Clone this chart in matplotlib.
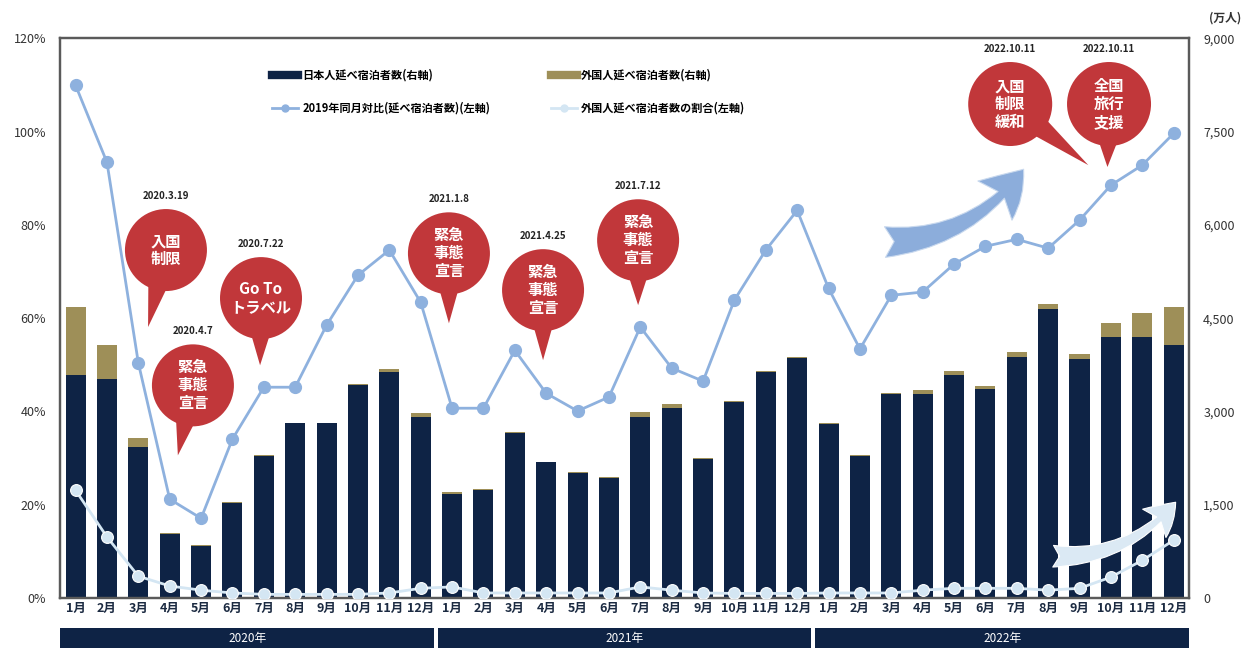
import numpy as np
import matplotlib
matplotlib.use("Agg")
from matplotlib import pyplot as plt
from matplotlib.patches import Ellipse, Polygon, FancyArrowPatch, Rectangle
from matplotlib.lines import Line2D
from matplotlib.ticker import FuncFormatter

plt.rcParams['font.family'] = ['Noto Sans CJK JP', 'DejaVu Sans']

years = ['2020年', '2021年', '2022年']
months = [f'{m}月' for m in range(1, 13)] * 3

# 延べ宿泊者数 (万人)
japanese = [3584, 3520, 2427, 1030, 845, 1535, 2290, 2810, 2810, 3420, 3632, 2909,
            1671, 1735, 2660, 2180, 2018, 1938, 2909, 3053, 2242, 3158, 3640, 3865,
            2805, 2290, 3287, 3279, 3584, 3359, 3873, 4645, 3841, 4195, 4195, 4066]
foreign = [1093, 546, 144, 15, 7, 8, 8, 2, 2, 19, 48, 64,
           32, 17, 8, 6, 7, 7, 80, 65, 8, 8, 8, 8,
           7, 8, 8, 64, 64, 48, 80, 80, 80, 225, 385, 611]

# 2019年同月対比 (%)
ratio_2019 = [109.9, 93.4, 50.4, 21.2, 17.1, 34.1, 45.2, 45.2, 58.5, 69.2, 74.6, 63.4,
              40.7, 40.7, 53.1, 43.9, 40.1, 43.1, 58.1, 49.3, 46.5, 63.9, 74.6, 83.1,
              66.4, 53.4, 64.9, 65.6, 71.6, 75.4, 76.9, 75.0, 81.0, 88.5, 92.8, 99.6]
# 外国人延べ宿泊者数の割合 (%)
foreign_share = [23.1, 13.1, 4.7, 2.6, 1.7, 1.1, 0.8, 0.8, 0.8, 0.8, 1.1, 2.1,
                 2.4, 1.1, 1.1, 1.1, 1.1, 1.1, 2.4, 1.7, 1.1, 1.0, 1.0, 1.0,
                 1.1, 1.1, 1.1, 1.7, 2.1, 2.1, 2.1, 1.7, 2.1, 4.5, 8.1, 12.4]

# callouts: (center x, center y %, tip x, tip y %, text, date, radius px)
callouts = [
    (2.88, 74.6, 2.31, 58.1, '入国\n制限', '2020.3.19', 41),
    (3.74, 45.6, 3.26, 30.6, '緊急\n事態\n宣言', '2020.4.7', 41),
    (5.91, 64.3, 5.88, 49.9, 'Go To\nトラベル', '2020.7.22', 41),
    (11.90, 73.9, 11.90, 58.9, '緊急\n事態\n宣言', '2021.1.8', 41),
    (14.90, 66.0, 14.90, 51.0, '緊急\n事態\n宣言', '2021.4.25', 41),
    (17.93, 76.7, 17.93, 62.8, '緊急\n事態\n宣言', '2021.7.12', 41),
    (29.79, 105.9, 32.28, 92.8, '入国\n制限\n緩和', '2022.10.11', 42),
    (32.94, 105.9, 32.89, 92.4, '全国\n旅行\n支援', '2022.10.11', 42),
]

NAVY = '#0e2345'
OLIVE = '#9e8f58'
BLUE = '#8eb1de'
LIGHT = '#d4e6f3'
RED = '#c1373a'

x = np.arange(len(japanese))

fig = plt.figure(figsize=(12.48, 6.48), dpi=100)
ax = fig.add_axes([0.048, 0.077, 0.905, 0.864])
ax2 = ax.twinx()

# bars (right axis)
ax.bar(x, japanese, width=0.64, color=NAVY, zorder=2)
ax.bar(x, foreign, width=0.64, bottom=japanese, color=OLIVE, zorder=2)
ax.set_xlim(-0.5, len(x) - 0.5)
ax.set_ylim(0, 9000)
ax.set_yticks(np.arange(0, 9001, 1500))
ax.yaxis.set_major_formatter(FuncFormatter(lambda v, p: f'{int(v):,}'))
ax.yaxis.tick_right()
ax.set_xticks(x)
ax.set_xticklabels(months, fontsize=9, fontweight='bold', color='#1b2a41')
ax.tick_params(axis='both', length=0)
ax.tick_params(axis='x', pad=3)
ax.tick_params(axis='y', pad=10, labelsize=9, labelcolor='#333333')

# lines (left axis)
ax2.plot(x, ratio_2019, color=BLUE, lw=2, marker='o', ms=8.5, zorder=4)
ax2.plot(x, foreign_share, color=LIGHT, lw=2, marker='o', ms=8.5,
         mec='white', mew=0.8, zorder=4)
ax2.set_ylim(0, 120)
ax2.set_yticks(np.arange(0, 121, 20))
ax2.yaxis.set_major_formatter(FuncFormatter(lambda v, p: f'{int(v)}%'))
ax2.yaxis.tick_left()
ax2.tick_params(axis='y', length=0, pad=10, labelsize=9, labelcolor='#333333')

for a in (ax, ax2):
    for s in a.spines.values():
        s.set_color('#5a5a5a')
        s.set_linewidth(1.6)

fig.text(1225 / 1248, 1 - 18 / 648, '(万人)', ha='center', va='center', fontsize=8.5,
         color='#333333', fontweight='bold')

# year bands under the month labels
tr = ax.get_xaxis_transform()
for i, yr in enumerate(years):
    x0 = 12 * i - 0.5 + (0.065 if i > 0 else 0)
    x1 = 12 * i + 11.5 - (0.065 if i < len(years) - 1 else 0)
    ax.add_patch(Rectangle((x0, -0.0893), x1 - x0, 0.0357, transform=tr,
                           fc=NAVY, ec='none', clip_on=False))
    ax.text((x0 + x1) / 2, -0.0714, yr, transform=tr, ha='center', va='center',
            color='white', fontsize=8.5)

# legend
handles = [
    Line2D([], [], color=NAVY, lw=6, label='日本人延べ宿泊者数(右軸)'),
    Line2D([], [], color=BLUE, lw=2, marker='o', ms=5, label='2019年同月対比(延べ宿泊者数)(左軸)'),
    Line2D([], [], color=OLIVE, lw=6, label='外国人延べ宿泊者数(右軸)'),
    Line2D([], [], color=LIGHT, lw=2, marker='o', ms=5, label='外国人延べ宿泊者数の割合(左軸)'),
]
ax2.legend(handles=handles, ncol=2, loc='upper left', bbox_to_anchor=(0.188, 0.945),
           frameon=False, prop={'size': 8, 'weight': 'bold'}, handlelength=2.3,
           handletextpad=0.4, columnspacing=5.5, labelspacing=1.8, borderpad=0,
           borderaxespad=0)

# growth arrows
ax2.add_patch(FancyArrowPatch((25.71, 76.3), (30.27, 92.4),
                              arrowstyle='fancy,head_length=0.9,head_width=1.1,tail_width=0.65',
                              connectionstyle='arc3,rad=0.25', mutation_scale=34,
                              fc='#86a9d9', ec='#c9d9ee', lw=0.8, alpha=0.95, zorder=5))
ax2.add_patch(FancyArrowPatch((31.07, 9.0), (35.12, 21.0),
                              arrowstyle='fancy,head_length=0.9,head_width=1.1,tail_width=0.65',
                              connectionstyle='arc3,rad=0.25', mutation_scale=24,
                              fc='#dbe9f4', ec='white', lw=0.8, zorder=5))

# speech bubbles
pos = ax2.get_position()
sx = len(x) / (fig.get_figwidth() * fig.dpi * pos.width)
sy = 120 / (fig.get_figheight() * fig.dpi * pos.height)
for cx, cy, tx, ty, label, date, r in callouts:
    ax2.add_patch(Ellipse((cx, cy), 2 * r * sx, 2 * r * sy, fc=RED, ec='none',
                          zorder=8, clip_on=False))
    ang = np.arctan2((ty - cy) / sy, (tx - cx) / sx)
    pts = [(cx + 0.85 * r * np.cos(a) * sx, cy + 0.85 * r * np.sin(a) * sy)
           for a in (ang - 0.3, ang + 0.3)]
    pts.append((tx, ty))
    ax2.add_patch(Polygon(pts, closed=True, fc=RED, ec='none', zorder=8, clip_on=False))
    ax2.text(cx, cy, label, ha='center', va='center', color='white', fontsize=11,
             fontweight='bold', linespacing=1.15, zorder=9)
    ax2.text(cx, cy + (r + 13) * sy, date, ha='center', va='center', color='#222222',
             fontsize=7, fontweight='bold', zorder=9)

fig.savefig('out.png', dpi=100)
